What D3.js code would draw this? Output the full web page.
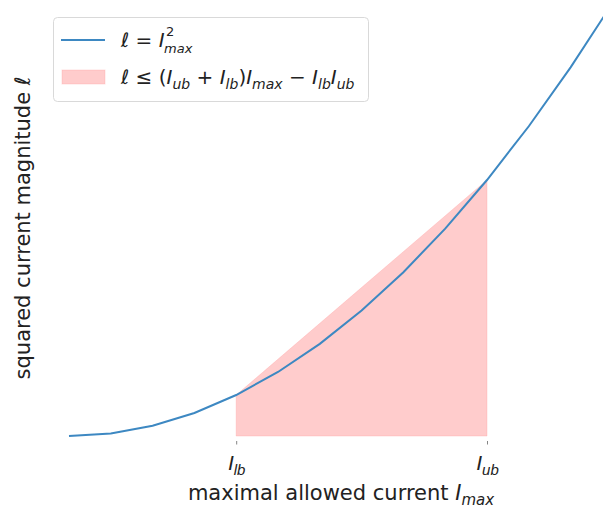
<!DOCTYPE html>
<html>
<head>
<meta charset="utf-8">
<script src="https://cdn.jsdelivr.net/npm/d3@7"></script>
<style>
  body { margin: 0; background: #fff; }
  svg { display: block; font-family: "DejaVu Sans", sans-serif; }
  .it { font-style: italic; }
</style>
</head>
<body>
<div id="chart"></div>
<script>
// I_max values and their squares
const currents = [0, 1, 2, 3, 4, 5, 6, 7, 8, 9, 10, 11, 12, 13];
const squares = [0, 1, 4, 9, 16, 25, 36, 49, 64, 81, 100, 121, 144, 169];
const lowerBound = 4;
const upperBound = 10;
const tickValues = [4, 10];
const tickLabels = [['I', 'lb'], ['I', 'ub']];

const W = 603, H = 509;
const svg = d3.select('#chart').append('svg')
  .attr('width', W).attr('height', H);

const x = d3.scaleLinear().domain([0, 10]).range([69, 487]);
const y = d3.scaleLinear().domain([0, 100]).range([436, 180]);

const lineData = currents.map((c, i) => ({ c, v: squares[i] }));

// relaxation area
const relax = c => (lowerBound + upperBound) * c - lowerBound * upperBound;
const area = [
  [lowerBound, 0], [lowerBound, relax(lowerBound)],
  [upperBound, relax(upperBound)], [upperBound, 0]
];
svg.append('path')
  .attr('d', d3.line().x(d => x(d[0])).y(d => y(d[1]))(area) + 'Z')
  .attr('fill', '#ff9999').attr('fill-opacity', 0.5)
  .attr('stroke', '#ff9999').attr('stroke-opacity', 0.3);

svg.append('path')
  .datum(lineData)
  .attr('d', d3.line().x(d => x(d.c)).y(d => y(d.v)))
  .attr('fill', 'none')
  .attr('stroke', '#3d88c2')
  .attr('stroke-width', 2);

// x axis (no spine)
const xAxis = d3.axisBottom(x).tickValues(tickValues).tickSize(3.5).tickFormat('');
const xg = svg.append('g').attr('transform', 'translate(0,441)').call(xAxis);
xg.select('.domain').remove();
xg.selectAll('.tick line').attr('stroke', '#666').attr('stroke-width', 0.8);
xg.selectAll('.tick').each(function(d, i) {
  const t = d3.select(this).append('text')
    .attr('y', 29).attr('fill', '#222').attr('text-anchor', 'middle')
    .style('font-size', '21px');
  t.append('tspan').attr('class', 'it').text(tickLabels[i][0]);
  t.append('tspan').attr('class', 'it').attr('dy', 5).style('font-size', '15px').text(tickLabels[i][1]);
});

// axis labels
const xl = svg.append('text')
  .attr('x', 341).attr('y', 500).attr('text-anchor', 'middle')
  .attr('fill', '#222').style('font-size', '21px');
xl.append('tspan').text('maximal allowed current ');
xl.append('tspan').attr('class', 'it').text('I');
xl.append('tspan').attr('class', 'it').attr('dy', 5).style('font-size', '15px').text('max');

svg.append('text')
  .attr('transform', 'translate(30,228) rotate(-90)')
  .attr('text-anchor', 'middle').attr('fill', '#222')
  .style('font-size', '21px')
  .text('squared current magnitude ℓ');

// legend
const lg = svg.append('g');
lg.append('rect')
  .attr('x', 53.5).attr('y', 17.5).attr('width', 315).attr('height', 84)
  .attr('rx', 4).attr('fill', '#fff').attr('stroke', '#d9d9d9');
lg.append('line')
  .attr('x1', 61).attr('x2', 105).attr('y1', 40).attr('y2', 40)
  .attr('stroke', '#3d88c2').attr('stroke-width', 2);
lg.append('rect')
  .attr('x', 62).attr('y', 70).attr('width', 43).attr('height', 14)
  .attr('fill', '#ff9999').attr('fill-opacity', 0.5)
  .attr('stroke', '#ff9999').attr('stroke-opacity', 0.3);

const t1 = lg.append('text').attr('x', 121).attr('y', 47).attr('fill', '#222').style('font-size', '20px');
t1.append('tspan').attr('class', 'it').text('ℓ');
t1.append('tspan').text(' = ');
t1.append('tspan').attr('class', 'it').text('I');
lg.append('text').attr('x', 166).attr('y', 36).attr('fill', '#222').style('font-size', '13px').text('2');
lg.append('text').attr('class', 'it').attr('x', 164).attr('y', 53).attr('fill', '#222').style('font-size', '13px').text('max');

const t2 = lg.append('text').attr('x', 121).attr('y', 84).attr('fill', '#222').style('font-size', '20px');
const parts = [
  ['ℓ', 1, 0], [' ≤ (', 0, 0], ['I', 1, 0], ['ub', 2, 5], [' + ', 0, -5], ['I', 1, 0], ['lb', 2, 5],
  [')', 0, -5], ['I', 1, 0], ['max', 2, 5], [' − ', 0, -5], ['I', 1, 0], ['lb', 2, 5], ['I', 1, -5], ['ub', 2, 5]
];
parts.forEach(([s, kind, dy]) => {
  const ts = t2.append('tspan').attr('dy', dy).text(s);
  if (kind >= 1) ts.attr('class', 'it');
  if (kind === 2) ts.style('font-size', '14px');
});
</script>
</body>
</html>
